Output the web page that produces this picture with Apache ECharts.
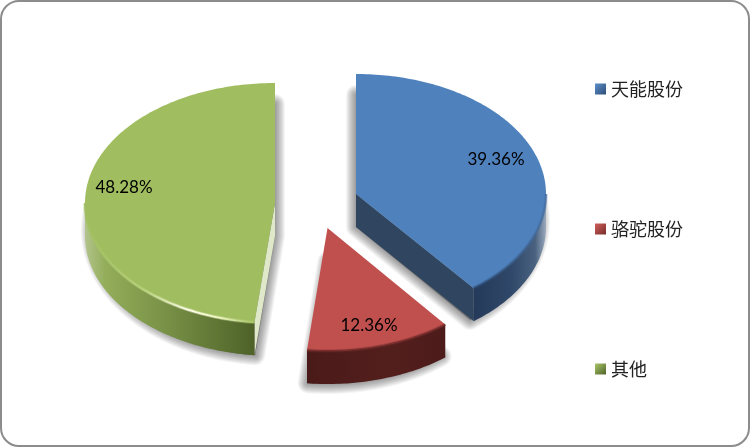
<!DOCTYPE html>
<html><head><meta charset="utf-8">
<style>html,body{margin:0;padding:0;background:#fff}#c{width:750px;height:447px}</style>
<script src="https://cdn.jsdelivr.net/npm/echarts@6/dist/echarts.min.js"></script>
</head><body><div id="c"></div>
<script>
const categories = ['天能股份', '骆驼股份', '其他'];
const shares = [39.36, 12.36, 48.28];
const topColors = ['#4f81bd', '#c0504d', '#a0be60'];

const rx = 190, depth = 33;
const radiiY = [120, 123, 120];
const centers = [[356, 194], [327.5, 228], [275, 203]];
const labelAt = [[496, 160], [369, 326], [124, 188]];
const faceColors = ['#2f4560', null, '#dfe8c9'];
const sideStops = [
  [[0, '#253a5a'], [0.5, '#2f4768'], [0.85, '#4a6280'], [1, '#9aaabd']],
  [[0, '#4a1a19'], [0.6, '#531f1d'], [1, '#4c1b1a']],
  [[0, '#b3c48c'], [0.12, '#93ad5a'], [0.5, '#768f45'], [1, '#4e6228']]
];
const sideRange = [[474, 546], [308, 446], [85, 254]];
const rimStops = [
  [[0, 'rgba(40,70,110,0.7)'], [1, 'rgba(70,110,160,0.8)']],
  [[0, 'rgba(110,40,38,0.8)'], [1, 'rgba(110,40,38,0.8)']],
  [[0, 'rgba(160,190,95,1)'], [0.35, 'rgba(185,210,125,1)'], [0.62, 'rgba(255,255,235,1)'], [0.8, 'rgba(235,245,190,1)'], [1, 'rgba(165,195,100,1)']]
];

const total = shares.reduce((a, b) => a + b, 0);
const startAngle = i => shares.slice(0, i).reduce((a, b) => a + b, 0) / total * 360;

function pt(i, deg, dy) {
  const a = deg * Math.PI / 180, c = centers[i];
  return [c[0] + rx * Math.sin(a), c[1] - radiiY[i] * Math.cos(a) + (dy || 0)];
}
function arc(i, from, to, dy) {
  const out = [], n = Math.max(2, Math.ceil(Math.abs(to - from)));
  for (let k = 0; k <= n; k++) out.push(pt(i, from + (to - from) * k / n, dy));
  return out;
}
// soft drop shadow: slightly smaller silhouette, pushed down, widened by translucent round strokes
function shadowLayers(i, a0, a1) {
  const c = centers[i], pts = [[c[0], c[1] + depth]];
  const n = Math.ceil(a1 - a0);
  for (let k = 0; k <= n; k++) {
    const d = a0 + (a1 - a0) * k / n, a = d * Math.PI / 180;
    const dy = 18 + (depth - 15) * (1 - Math.cos(a)) / 2;
    pts.push([c[0] + (rx - 6) * Math.sin(a), c[1] - (radiiY[i] - 3) * Math.cos(a) + dy]);
  }
  const out = [];
  for (let w = 20; w >= 2; w -= 2) {
    out.push({ type: 'polygon', shape: { points: pts }, style: { fill: null, stroke: 'rgba(0,0,0,0.042)', lineWidth: w, lineJoin: 'round' } });
  }
  out.push({ type: 'polygon', shape: { points: pts }, style: { fill: 'rgba(0,0,0,0.3)' } });
  return out;
}

function renderSlice(i) {
  return function (params, api) {
    const value = api.value(0);
    const c = centers[i];
    const a0 = startAngle(i), a1 = a0 + value / total * 360;
    const top = [c].concat(arc(i, a0, a1));
    const ch = shadowLayers(i, a0, a1);
    if (faceColors[i]) {
      const e = i === 0 ? pt(i, a1) : pt(i, a0);
      ch.push({ type: 'polygon', shape: { points: [c, [c[0], c[1] + depth], [e[0], e[1] + depth], e] }, style: { fill: faceColors[i] } });
    }
    const s0 = Math.max(a0, 90), s1 = Math.min(a1, 270);
    const upper = arc(i, s0, s1), lower = arc(i, s1, s0, depth);
    const R = sideRange[i];
    const side = new echarts.graphic.LinearGradient(R[0], 0, R[1], 0, sideStops[i].map(s => ({ offset: s[0], color: s[1] })), true);
    ch.push({ type: 'polygon', shape: { points: upper.concat(lower) }, style: { fill: side } });
    ch.push({ type: 'polygon', shape: { points: top }, style: { fill: topColors[i] } });
    const rim = new echarts.graphic.LinearGradient(R[0], 0, R[1], 0, rimStops[i].map(s => ({ offset: s[0], color: s[1] })), true);
    ch.push({ type: 'polyline', shape: { points: upper }, style: { fill: null, stroke: rim, lineWidth: 3.5, opacity: 0.35 } });
    ch.push({ type: 'polyline', shape: { points: upper }, style: { fill: null, stroke: rim, lineWidth: 1.8 } });
    ch.push({ type: 'text', style: { text: value.toFixed(2) + '%', x: labelAt[i][0], y: labelAt[i][1], fill: '#000', font: '17px Lato, "Open Sans", sans-serif', textAlign: 'center', textVerticalAlign: 'middle' } });
    return { type: 'group', children: ch };
  };
}

const legendGrad = [['#5c8fcc', '#2c4d75'], ['#d0605c', '#772c2a'], ['#a9c76a', '#4f6228']];
const order = [2, 1, 0];
const chart = echarts.init(document.getElementById('c'), null, { renderer: 'canvas' });
chart.setOption({
  animation: false,
  backgroundColor: '#fff',
  graphic: [{ type: 'rect', z: -10, shape: { x: 1, y: 1, width: 748, height: 445, r: 18 }, style: { fill: '#fff', stroke: '#8c8c8c', lineWidth: 2 } }],
  legend: {
    orient: 'vertical', left: 590, top: 71, itemGap: 114,
    itemWidth: 11, itemHeight: 11, icon: 'rect',
    textStyle: { fontSize: 18, color: '#222', fontFamily: '"Noto Sans CJK SC"', lineHeight: 26 },
    data: categories.map((n, i) => ({ name: n, itemStyle: { color: new echarts.graphic.LinearGradient(0, 0, 1, 1, [{ offset: 0, color: legendGrad[i][0] }, { offset: 1, color: legendGrad[i][1] }]) } }))
  },
  series: order.map(i => ({
    type: 'custom', name: categories[i], coordinateSystem: 'none', silent: true,
    itemStyle: { color: topColors[i] },
    renderItem: renderSlice(i),
    data: [[shares[i]]]
  }))
});
</script></body></html>
